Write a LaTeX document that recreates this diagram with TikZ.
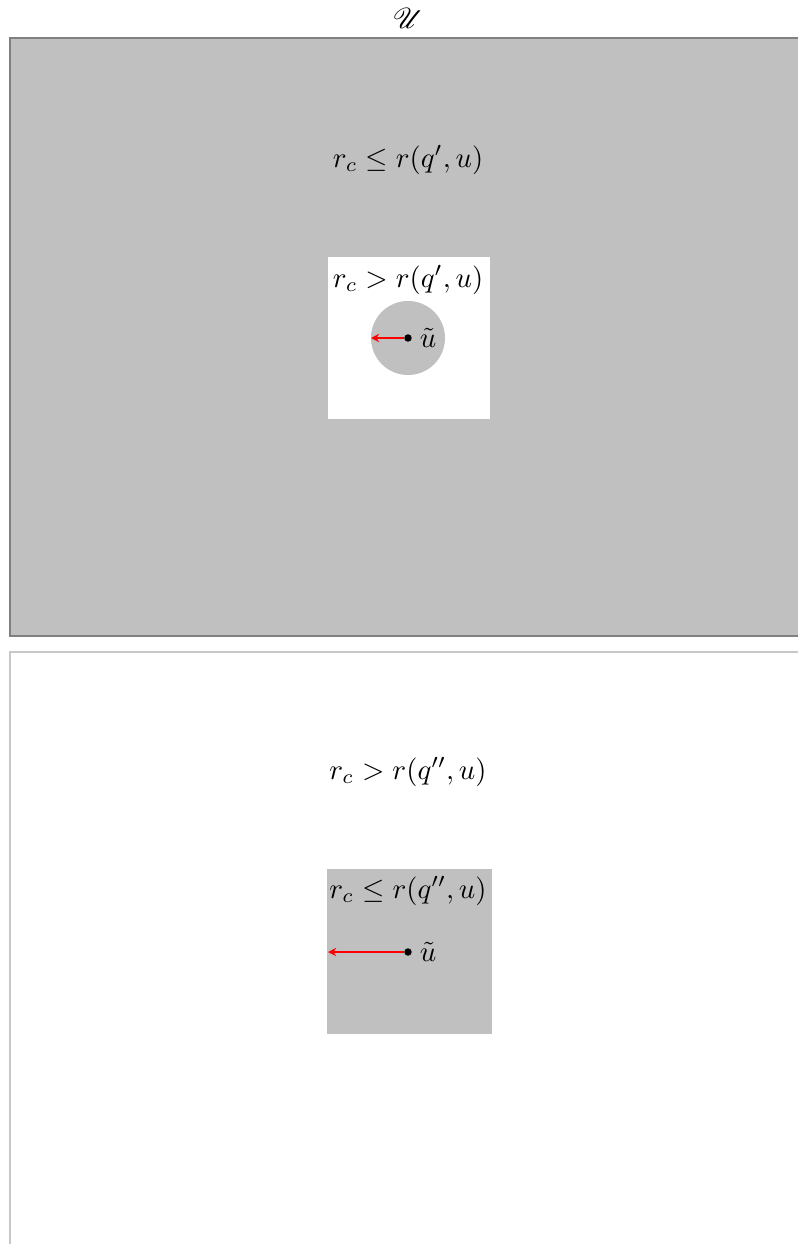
\documentclass[tikz,border=0pt]{standalone}
\usepackage{amsmath,amssymb,mathrsfs}
\usetikzlibrary{arrows.meta}
\definecolor{rgFill}{HTML}{C0C0C0}
\definecolor{rgEdge}{HTML}{808080}
\definecolor{rgPale}{HTML}{C8C8C8}
\tikzset{
  rg outer/.style={draw=rgEdge, fill=rgFill, line width=0.7pt},
  rg outer light/.style={draw=rgPale, fill=white, line width=0.7pt},
  rg region/.style={fill=rgFill},
  rg hole/.style={fill=white},
  rg label/.style={inner sep=0pt},
  rg dot/.style={circle, fill=black, inner sep=0pt, minimum size=2.6pt},
  rg arrow/.style={draw=red, line width=0.65pt, -{Stealth[length=2.8pt, width=2.8pt]}},
}

\begin{document}
\begin{tikzpicture}[x=0.3475pt, y=-0.3475pt]
  \useasboundingbox (0,0) rectangle (798,1244);
  \clip (0,0) rectangle (798,1244);

  % Universe label
  \node[rg label] (univ) at (408,18) {$\mathscr{U}$};

  % Upper panel: grey outside, white hole around u
  \draw[rg outer] (10,38) rectangle (830,636);
  \node[rg label] (condA) at (408,160) {$r_c \leq r(q',u)$};
  \fill[rg hole] (328,257) rectangle (490,419);
  \node[rg label] (condB) at (408,280) {$r_c > r(q',u)$};
  \fill[rgFill] (408,338) circle (37);
  \node[rg dot, label={[inner sep=2.4pt]right:$\tilde{u}$}] (uA) at (408,338) {};
  \coordinate (tipA) at (371,338);
  \draw[rg arrow] (uA) -- (tipA);

  % Lower panel: white outside, grey square around u
  \draw[rg outer light] (10,652) rectangle (830,1280);
  \node[rg label] (condC) at (408,772) {$r_c > r(q'',u)$};
  \fill[rg region] (327,869) rectangle (492,1034);
  \node[rg label] (condD) at (408,891) {$r_c \leq r(q'',u)$};
  \node[rg dot, label={[inner sep=2.4pt]right:$\tilde{u}$}] (uB) at (408,952) {};
  \coordinate (tipB) at (328,952);
  \draw[rg arrow] (uB) -- (tipB);
\end{tikzpicture}
\end{document}
